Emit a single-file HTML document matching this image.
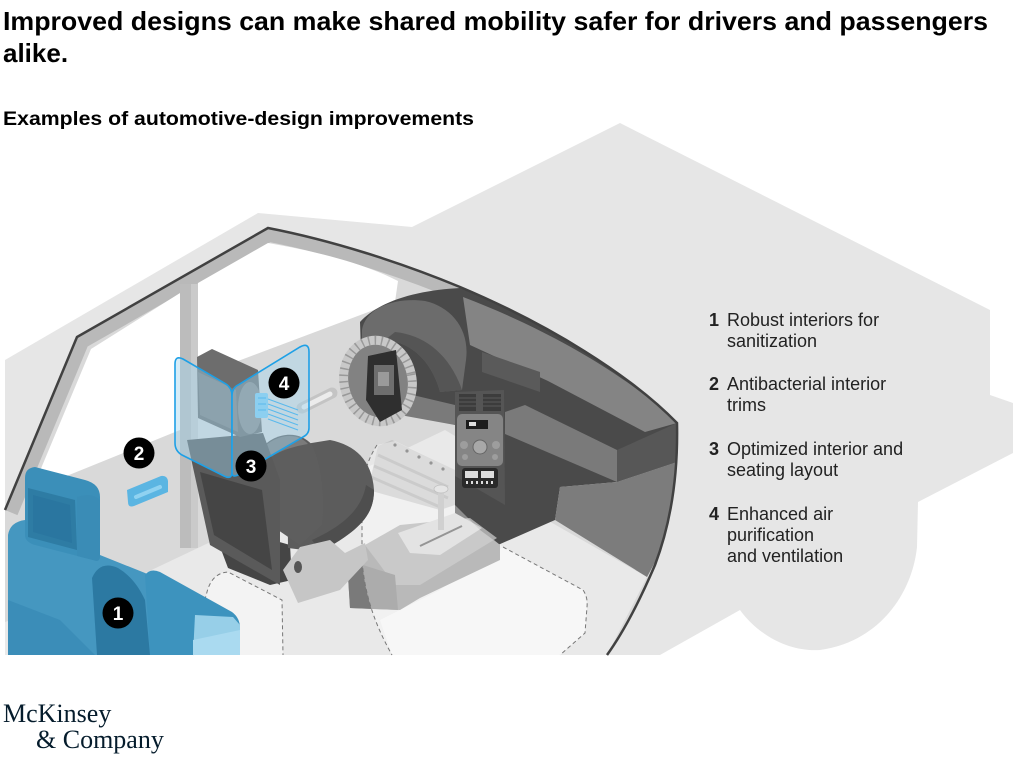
<!DOCTYPE html>
<html><head><meta charset="utf-8">
<style>
html,body{margin:0;padding:0;background:#fff;}
svg{display:block;}
</style></head>
<body>
<svg width="1024" height="761" viewBox="0 0 1024 761" xmlns="http://www.w3.org/2000/svg">
<defs>
<clipPath id="cab"><path d="M5,510 L77,337 L268,228 C330,240 400,262 460,287 C550,325 630,375 677,423 C678,470 672,520 655,565 C640,600 625,630 607,655 L5,655 Z"/></clipPath>
</defs>

<!-- silhouette -->
<path d="M5,360 L258,213 L412,227 L620,123 L990,310 L990,395 L1013,403 L1013,453 L918,502 L917,547 C912,595 878,642 820,650 C785,652 756,632 740,610 L660,655 L5,655 Z" fill="#e6e6e6"/>

<!-- cabin base -->
<path d="M5,510 L77,337 L268,228 C330,240 400,262 460,287 C550,325 630,375 677,423 C678,470 672,520 655,565 C640,600 625,630 607,655 L5,655 Z" fill="#d9d9d9"/>
<g clip-path="url(#cab)">
<path d="M5,510 L77,337 L268,228 C330,240 400,262 460,287 C550,325 630,375 677,423" fill="none" stroke="#b9b9b9" stroke-width="27"/>
</g>

<!-- windows -->
<path d="M91,349 L180,293 L180,430 L32,490 Z" fill="#ffffff"/>
<path d="M198,283 L268,243 C320,252 365,264 398,281 L395,302 L198,376 Z" fill="#ffffff"/>
<!-- B pillar -->
<rect x="180" y="284" width="18" height="264" fill="#bcbcbc"/>
<rect x="191" y="284" width="7" height="264" fill="#cacaca"/>

<!-- floor -->
<path d="M5,655 L5,622 L120,585 L200,547 L445,430 L470,445 L547,520 L647,577 L607,655 Z" fill="#e9e9e9"/>
<!-- mats -->
<path d="M193,655 L200,618 L207,592 Q212,573 228,572 L282,600 L283,655 Z" fill="#f3f3f3"/>
<path d="M193,655 L200,618 L207,592 Q212,573 228,572 L282,600 L283,655" fill="none" stroke="#777" stroke-width="1" stroke-dasharray="4 3"/>
<path d="M392,655 L380,620 L440,590 L503,547 L583,590 Q588,597 587,607 L585,633 L560,655 Z" fill="#f3f3f3"/>

<!-- door handle -->
<line x1="302" y1="408" x2="332" y2="393" stroke="#c4c4c4" stroke-width="11" stroke-linecap="round"/>
<line x1="304" y1="407" x2="330" y2="394" stroke="#ececec" stroke-width="5" stroke-linecap="round"/>

<!-- dashboard body -->
<path d="M360,322 C380,300 420,290 460,288 C550,325 630,375 677,423 L677,462 L617,482 L560,487 L555,520 L482,552 L455,540 L455,425 L440,420 L400,415 L362,385 Z" fill="#4a4a4a"/>
<!-- top band -->
<path d="M463,297 C550,330 630,377 677,423 L645,432 L548,381 L470,345 Z" fill="#848484"/>
<!-- display block -->
<polygon points="482,352 540,372 540,392 482,372" fill="#5a5a5a"/>
<!-- beam -->
<polygon points="505,412 525,405 617,450 617,482 505,434" fill="#7a7a7a"/>
<polygon points="400,392 455,405 455,425 400,415" fill="#7a7a7a"/>
<!-- end cap -->
<polygon points="617,450 677,423 677,462 617,482" fill="#575757"/>
<!-- side panel -->
<polygon points="560,487 617,482 677,462 673,497 660,553 647,577 555,520" fill="#7c7c7c"/>

<!-- hood -->
<path d="M362,330 C366,306 398,297 425,301 C452,307 470,330 466,360 L462,390 L440,392 C432,362 412,342 385,340 C375,340 368,342 362,346 Z" fill="#6c6c6c"/>
<path d="M440,392 C432,362 412,342 385,340 L395,332 C425,335 450,355 462,390 Z" fill="#555"/>

<!-- center stack -->
<polygon points="455,392 504,390 505,505 455,476" fill="#555"/>
<rect x="459" y="394" width="17" height="17" fill="#3c3c3c"/>
<rect x="483" y="394" width="18" height="17" fill="#3c3c3c"/>
<g stroke="#5a5a5a" stroke-width="1">
<line x1="459" y1="398" x2="476" y2="398"/><line x1="459" y1="402" x2="476" y2="402"/><line x1="459" y1="406" x2="476" y2="406"/>
<line x1="483" y1="398" x2="501" y2="398"/><line x1="483" y1="402" x2="501" y2="402"/><line x1="483" y1="406" x2="501" y2="406"/>
</g>
<rect x="457" y="414" width="46" height="52" rx="5" fill="#858585"/>
<rect x="466" y="420" width="22" height="9" fill="#1c1c1c"/>
<rect x="469" y="422" width="7" height="4" fill="#ddd"/>
<circle cx="480" cy="447" r="7" fill="#a8a8a8" stroke="#666" stroke-width="1"/>
<circle cx="464" cy="445" r="4" fill="#9d9d9d"/>
<circle cx="496" cy="445" r="4" fill="#9d9d9d"/>
<circle cx="465" cy="457" r="3" fill="#9d9d9d"/>
<circle cx="495" cy="457" r="3" fill="#9d9d9d"/>
<rect x="462" y="468" width="36" height="20" rx="3" fill="#2a2a2a"/>
<rect x="465" y="471" width="13" height="7" fill="#ddd"/>
<rect x="481" y="471" width="13" height="7" fill="#ddd"/>
<g fill="#ddd"><rect x="466" y="481" width="2" height="3"/><rect x="471" y="481" width="2" height="3"/><rect x="476" y="481" width="2" height="3"/><rect x="481" y="481" width="2" height="3"/><rect x="486" y="481" width="2" height="3"/><rect x="491" y="481" width="2" height="3"/></g>

<!-- steering wheel -->
<g transform="rotate(-12 378 381)">
<ellipse cx="378" cy="381" rx="34" ry="41" fill="#828282" stroke="#c8c8c8" stroke-width="9"/>
<ellipse cx="378" cy="381" rx="34" ry="41" fill="none" stroke="#999" stroke-width="9" stroke-dasharray="1.5 5"/>
</g>
<polygon points="368,356 396,350 402,410 380,422 366,400" fill="#2f2f2f"/>
<rect x="374" y="365" width="20" height="30" fill="#6e6e6e"/>
<rect x="378" y="372" width="11" height="14" fill="#9a9a9a"/>

<!-- outline -->
<path d="M5,510 L77,337 L268,228 C330,240 400,262 460,287 C550,325 630,375 677,423 C678,470 672,520 655,565 C640,600 625,630 607,655" fill="none" stroke="#414141" stroke-width="2.5"/>

<!-- slatted console top -->
<polygon points="378,446 392,440 455,470 455,505 440,510 368,490" fill="#c6c6c6"/>
<g stroke="#acacac" stroke-width="3">
<line x1="378" y1="455" x2="448" y2="487"/>
<line x1="374" y1="466" x2="448" y2="498"/>
<line x1="371" y1="477" x2="440" y2="507"/>
</g>
<g fill="#555"><circle cx="395" cy="445" r="1.6"/><circle cx="407" cy="451" r="1.6"/><circle cx="419" cy="457" r="1.6"/><circle cx="431" cy="463" r="1.6"/><circle cx="443" cy="469" r="1.6"/></g>

<!-- console -->
<polygon points="347,560 365,545 400,530 480,528 500,545 500,560 420,598 400,610 350,608" fill="#8f8f8f"/>
<polygon points="365,545 400,525 470,518 497,538 420,585 395,585" fill="#a9a9a9"/>
<polygon points="347,560 395,575 398,610 350,608" fill="#7a7a7a"/>
<polygon points="398,533 455,513 482,528 440,555 410,553" fill="#d2d2d2"/>
<line x1="420" y1="546" x2="462" y2="526" stroke="#555" stroke-width="2"/>
<rect x="438" y="490" width="6" height="40" fill="#b3b3b3"/>
<ellipse cx="441" cy="489" rx="7" ry="4" fill="#d5d5d5" stroke="#999" stroke-width="0.8"/>

<!-- ghost passenger seat -->
<path d="M377,445 C366,462 362,480 362,500 L362,560 C365,600 378,630 392,655 L560,655 L585,633 L587,607 L583,590 L503,547 L480,530 L455,505 L455,470 L395,441 Z" fill="#ffffff" fill-opacity="0.38"/>
<path d="M377,445 C366,462 362,480 362,500 L362,560 C365,600 378,630 392,655" fill="none" stroke="#777" stroke-width="1" stroke-dasharray="4 3"/>
<path d="M503,547 L583,590 Q588,597 587,607 L585,633 L560,655" fill="none" stroke="#777" stroke-width="1" stroke-dasharray="4 3"/>

<!-- front seat -->
<polygon points="222,552 262,537 290,545 292,580 270,585 228,568" fill="#454545"/>
<path d="M287,447 L330,440 C355,445 372,460 374,490 C374,515 360,530 320,552 L288,548 Z" fill="#5c5c5c"/>
<path d="M374,490 C374,515 360,530 320,552 L312,540 C345,525 362,508 366,485 Z" fill="#4e4e4e"/>
<path d="M283,570 L300,547 L330,540 L345,553 L365,543 L368,560 L340,590 L298,603 Z" fill="#c6c6c6"/>
<ellipse cx="298" cy="567" rx="4" ry="6" fill="#555"/>
<path d="M262,448 C275,432 300,430 312,445 C322,465 325,500 322,525 L300,545 L278,530 Z" fill="#5e5e5e"/>
<path d="M265,446 C278,434 298,432 308,444 C296,446 280,450 270,458 Z" fill="#7b7b7b"/>
<polygon points="187,440 263,433 280,480 280,585 210,545" fill="#5a5a5a"/>
<polygon points="200,472 262,490 272,570 214,535" fill="#454545"/>
<polygon points="197,357 212,349 258,370 262,432 240,437 198,418" fill="#6d6d6d"/>
<polygon points="198,372 236,390 238,432 200,415" fill="#7e7e7e"/>
<ellipse cx="250" cy="408" rx="12" ry="26" fill="#8a8a8a"/>

<!-- partitions -->
<path d="M175,364 Q175,355 183,359 L226,384 Q232,388 232,396 L232,472 Q232,480 224,476 L182,455 Q175,451 175,443 Z" fill="#9fd3ee" fill-opacity="0.42" stroke="#1ea0e6" stroke-width="1.6"/>
<path d="M232,396 Q232,388 238,385 L300,347 Q309,342 309,352 L309,428 Q309,434 303,437 L238,475 Q232,478 232,472 Z" fill="#9fd3ee" fill-opacity="0.42" stroke="#1ea0e6" stroke-width="1.6"/>
<rect x="255" y="393" width="13" height="25" rx="2" fill="#8ccff0"/>
<g stroke="#5ab9ec" stroke-width="1">
<line x1="268" y1="399" x2="298" y2="410"/>
<line x1="268" y1="404" x2="298" y2="415"/>
<line x1="268" y1="409" x2="298" y2="420"/>
<line x1="268" y1="414" x2="298" y2="425"/>
<line x1="268" y1="419" x2="298" y2="430"/>
<line x1="258" y1="398" x2="266" y2="398"/>
<line x1="258" y1="404" x2="266" y2="404"/>
<line x1="258" y1="410" x2="266" y2="410"/>
</g>

<!-- blue rear seat -->
<path d="M8,535 Q10,522 25,520 L100,555 L150,575 L150,655 L8,655 Z" fill="#4597c0"/>
<path d="M8,600 L60,620 L95,655 L8,655 Z" fill="#3b8db8"/>
<path d="M145,575 Q150,568 160,572 L232,612 Q240,618 240,628 L240,655 L150,655 Z" fill="#3d93be"/>
<polygon points="195,615 233,617 240,625 240,655 193,655" fill="#97cfe8"/>
<polygon points="193,640 240,630 240,655 193,655" fill="#aadaf0"/>
<path d="M92,578 Q100,560 118,568 Q135,578 145,600 L150,655 L97,655 Z" fill="#2c79a2"/>
<path d="M25,478 Q25,468 35,467 L85,480 Q100,484 100,497 L100,556 Q100,563 93,560 L35,545 Q25,542 25,535 Z" fill="#3b8fb9"/>
<polygon points="28,488 75,500 77,550 28,537" fill="#2e7ca4"/>
<polygon points="33,495 70,505 72,543 33,532" fill="#2a76a0"/>
<path d="M77,497 Q92,492 100,500 L100,556 Q100,563 93,560 L77,556 Z" fill="#3a8cb6"/>

<!-- handle 2 -->
<path d="M127,490 L161,476 Q167,475 168,481 L168,492 L134,506 Q128,508 128,502 Z" fill="#5bb5e2"/>
<line x1="136" y1="497" x2="160" y2="487" stroke="#8fd2f1" stroke-width="4" stroke-linecap="round"/>

<!-- markers -->
<g font-family="Liberation Sans, Arial, sans-serif" font-weight="bold" font-size="19" fill="#fff" text-anchor="middle">
<circle cx="118" cy="613" r="15.5" fill="#000"/><text x="118" y="620">1</text>
<circle cx="139" cy="453" r="15.5" fill="#000"/><text x="139" y="460">2</text>
<circle cx="251" cy="466" r="15.5" fill="#000"/><text x="251" y="473">3</text>
<circle cx="284" cy="383" r="15.5" fill="#000"/><text x="284" y="390">4</text>
</g>

<!-- title -->
<g font-family="Liberation Sans, Arial, sans-serif" fill="#000">
<text x="3" y="30" font-size="26" font-weight="bold" textLength="985" lengthAdjust="spacingAndGlyphs">Improved designs can make shared mobility safer for drivers and passengers</text>
<text x="3" y="62" font-size="26" font-weight="bold">alike.</text>
<text x="3" y="125" font-size="19" font-weight="bold" textLength="471" lengthAdjust="spacingAndGlyphs">Examples of automotive-design improvements</text>
</g>

<!-- legend -->
<g font-family="Liberation Sans, Arial, sans-serif" font-size="18" fill="#222">
<text x="709" y="326" font-weight="bold">1</text>
<text x="727" y="326">Robust interiors for</text>
<text x="727" y="347">sanitization</text>
<text x="709" y="390" font-weight="bold">2</text>
<text x="727" y="390">Antibacterial interior</text>
<text x="727" y="411">trims</text>
<text x="709" y="455" font-weight="bold">3</text>
<text x="727" y="455">Optimized interior and</text>
<text x="727" y="476">seating layout</text>
<text x="709" y="520" font-weight="bold">4</text>
<text x="727" y="520">Enhanced air</text>
<text x="727" y="541">purification</text>
<text x="727" y="562">and ventilation</text>
</g>

<!-- logo -->
<g font-family="Liberation Serif, Times New Roman, serif" font-size="26" fill="#051c2c">
<text x="3" y="722">McKinsey</text>
<text x="36" y="748">&amp; Company</text>
</g>
</svg>
</body></html>
